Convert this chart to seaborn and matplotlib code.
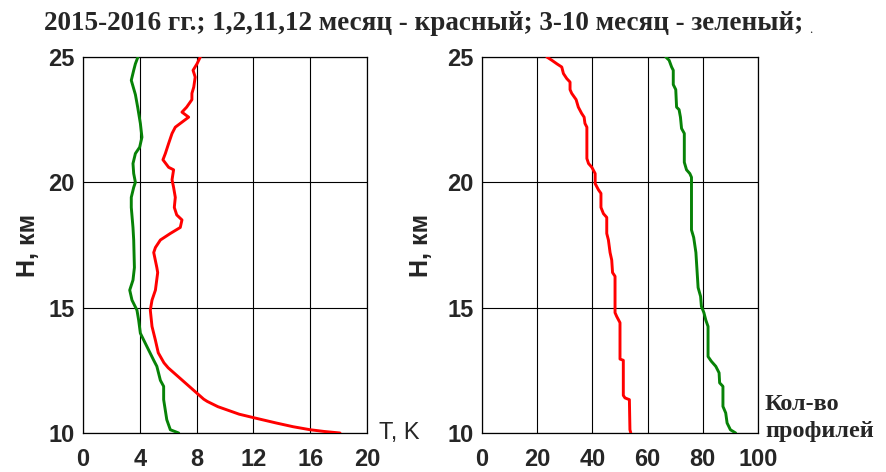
import numpy as np
import pandas as pd
import matplotlib
matplotlib.use("Agg")
import matplotlib.pyplot as plt
import seaborn as sns

# ---- data ----
h_red_t = [10.0, 10.06, 10.13, 10.25, 10.4, 10.48, 10.6, 10.75, 10.93, 11.05, 11.26, 11.35, 11.6,
           11.8, 12.0, 12.2, 12.4, 12.6, 12.8, 13.0, 13.2, 13.7, 14.25, 14.9,
           15.3, 15.7, 16.4, 16.6, 17.2, 17.4, 17.7, 17.96, 18.2, 18.5, 18.7, 19.0, 19.4, 19.8,
           20.1, 20.5, 20.6, 20.9, 21.15, 21.55, 21.95, 22.2, 22.35, 22.6, 22.8, 23.0, 23.3,
           23.55, 23.8, 24.2, 24.47, 24.73, 25.0]
t_red = [18.1, 17.0, 16.0, 14.8, 13.6, 13.0, 12.1, 11.0, 10.1, 9.5, 8.75, 8.5, 8.0,
         7.6, 7.2, 6.8, 6.4, 6.0, 5.7, 5.5, 5.3, 5.1, 4.86, 4.74,
         4.86, 5.1, 5.26, 5.2, 4.98, 5.1, 5.45, 6.15, 6.85, 6.97, 6.6, 6.43, 6.5, 6.38,
         6.27, 6.38, 6.03, 5.63, 5.8, 6.03, 6.27, 6.5, 6.85, 7.44, 6.97, 7.3, 7.67,
         7.67, 7.8, 7.9, 7.75, 8.03, 8.26]

h_green_t = [10.0, 10.13, 10.53, 11.33, 11.86, 12.1, 12.66, 12.9, 13.45, 13.98, 14.5, 14.9,
             15.3, 15.7, 16.1, 16.6, 17.7, 18.2, 19.0, 19.4, 19.8, 20.0, 20.35, 20.75,
             21.15, 21.4, 21.8, 22.35, 23.0, 23.5, 24.07, 24.47, 24.73, 25.0]
t_green = [6.74, 6.15, 5.9, 5.68, 5.68, 5.45, 5.2, 4.98, 4.5, 4.04, 3.92, 3.8,
           3.45, 3.29, 3.52, 3.62, 3.57, 3.52, 3.4, 3.4, 3.57, 3.69, 3.57, 3.52,
           3.69, 3.99, 4.15, 4.04, 3.85, 3.69, 3.4, 3.57, 3.69, 3.87]

h_red_n = [10.0, 10.13, 11.33, 11.4, 11.5, 12.9, 12.95, 14.4, 14.65, 14.8, 16.25, 16.4, 16.9,
           17.2, 17.7, 17.96, 18.6, 18.75, 19.0, 19.56, 19.7, 19.95, 20.35, 20.6, 20.75,
           20.95, 22.2, 22.35, 22.6, 22.75, 23.0, 23.3, 23.55, 23.7, 24.0, 24.14, 24.34,
           24.6, 24.73, 24.87, 25.0]
n_red = [53.9, 53.6, 53.4, 51.8, 51.2, 51.2, 50.0, 50.0, 48.8, 48.2, 48.2, 47.3, 47.0,
         46.4, 45.8, 45.2, 45.2, 44.0, 43.1, 43.1, 42.2, 41.0, 41.0, 39.8, 38.6,
         38.0, 38.0, 37.3, 37.0, 36.1, 34.9, 34.1, 32.5, 31.9, 31.9, 30.7, 29.5,
         28.9, 27.1, 25.3, 23.5]

h_green_n = [10.0, 10.13, 10.4, 10.8, 11.06, 11.86, 12.0, 12.4, 12.66, 12.86, 13.05, 14.25,
             14.5, 14.8, 15.05, 15.45, 15.8, 16.5, 17.2, 17.8, 18.1, 20.2, 20.35, 20.5,
             20.8, 21.95, 22.15, 22.6, 22.9, 23.0, 23.7, 23.9, 24.47, 24.6, 24.87, 25.0]
n_green = [91.9, 90.0, 88.8, 88.3, 87.3, 87.3, 86.1, 85.9, 84.7, 83.1, 81.9, 81.9,
           81.1, 80.4, 79.5, 79.2, 78.3, 77.9, 77.5, 76.7, 75.9, 75.9, 75.3, 74.1,
           73.3, 73.3, 72.3, 71.9, 71.4, 70.5, 70.2, 69.3, 69.3, 68.7, 67.8, 66.6]

x_ticks_t = [0, 4, 8, 12, 16, 20]
x_ticks_n = [0, 20, 40, 60, 80, 100]
y_ticks = [10, 15, 20, 25]

title = "2015-2016 гг.; 1,2,11,12 месяц - красный; 3-10 месяц - зеленый;"

RED = "#ff0000"
GREEN = "#078207"

sns.set_style("white")
plt.rcParams['font.family'] = ['Liberation Sans', 'DejaVu Sans']

fig = plt.figure(figsize=(8.87, 4.72), dpi=100)
ax1 = fig.add_axes([83/887, 1-433/472, (367-83)/887, (433-57)/472])
ax2 = fig.add_axes([482/887, 1-433/472, (758-482)/887, (433-57)/472])

def draw(ax, xr, yr, xg, yg, xticks, ylab_x):
    df_r = pd.DataFrame({"x": xr, "y": yr})
    df_g = pd.DataFrame({"x": xg, "y": yg})
    sns.lineplot(data=df_g, x="x", y="y", sort=False, estimator=None, color=GREEN,
                 linewidth=2.1, ax=ax, zorder=3)
    sns.lineplot(data=df_r, x="x", y="y", sort=False, estimator=None, color=RED,
                 linewidth=2.1, ax=ax, zorder=3)
    ax.set_xlim(xticks[0], xticks[-1])
    ax.set_ylim(10, 25)
    ax.set_xticks(xticks)
    ax.set_yticks(y_ticks)
    ax.grid(True, color="black", linewidth=0.8)
    ax.set_axisbelow(True)
    for s in ax.spines.values():
        s.set_color("black")
        s.set_linewidth(0.9)
    ax.tick_params(axis="both", direction="out", length=4.5, width=0.9, color="black",
                   labelsize=17)
    ax.tick_params(axis="x", pad=6)
    ax.tick_params(axis="y", pad=1.5)
    for lab in ax.get_xticklabels() + ax.get_yticklabels():
        lab.set_fontweight("bold")
    ax.set_xlabel("")
    ax.set_ylabel("H, км", fontsize=18, fontweight="bold")
    ax.yaxis.set_label_coords(ylab_x, 0.5)

draw(ax1, t_red, h_red_t, t_green, h_green_t, x_ticks_t, (28 - 83) / 284)
draw(ax2, n_red, h_red_n, n_green, h_green_n, x_ticks_n, (421 - 482) / 276)
for ax in (ax1, ax2):
    ax.yaxis.label.set_verticalalignment("center")

t = fig.text(44/887, 1-23/472, title, fontsize=19.5, fontweight="bold",
             family=["Liberation Serif", "DejaVu Serif"], va="center", ha="left")
fig.canvas.draw()
bb = t.get_window_extent()
fig.text((bb.x1 + 6) / 887, 1-30/472, ".", fontsize=9,
         family=["Liberation Serif", "DejaVu Serif"], va="center", ha="left")
fig.text(379/887, 1-433/472, "T, K", fontsize=17, va="center", ha="left")
fig.text(765/887, 1-418/472, "Кол-во\nпрофилей", fontsize=17.5, fontweight="bold",
         family=["Liberation Serif", "DejaVu Serif"], va="center", ha="left",
         linespacing=1.35)

fig.savefig("out.png", dpi=100)
